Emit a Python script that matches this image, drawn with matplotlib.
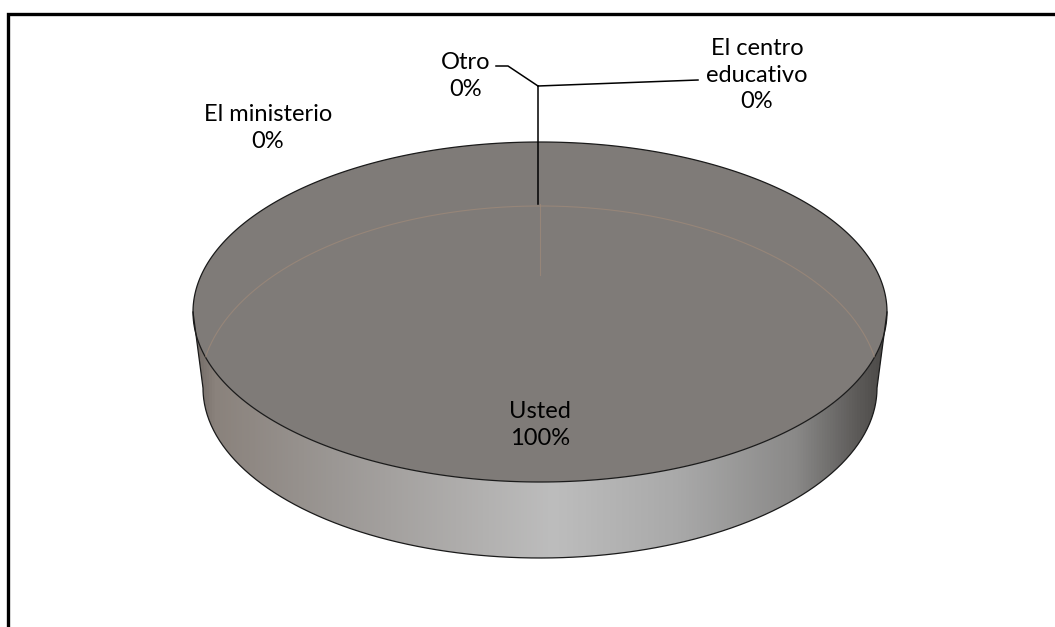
import numpy as np
import matplotlib.pyplot as plt
from matplotlib.colors import LinearSegmentedColormap
from matplotlib.patches import Polygon

plt.rcParams['font.family'] = ['Lato', 'DejaVu Sans']

# survey answers (share of responses)
categories = ["El ministerio", "Otro", "El centro educativo", "Usted"]
values = [0, 0, 0, 100]
label_text = ["El ministerio\n0%", "Otro\n0%", "El centro\neducativo\n0%", "Usted\n100%"]

W, H = 1055, 627
fig = plt.figure(figsize=(W / 100, H / 100), dpi=100)
ax = fig.add_axes([0, 0, 1, 1])
ax.set_xlim(0, W)
ax.set_ylim(H, 0)
ax.axis("off")

# pie geometry in pixels: top face and base ellipses
cx, cy, rx, ry = 540, 312, 347, 170
bcx, bcy, brx, bry = 540, 388, 337, 170


def ell(t, x0, y0, a, b):
    return x0 + a * np.cos(t), y0 + b * np.sin(t)


# side wall (front half)
t = np.linspace(0, np.pi, 300)
tx, ty = ell(t, cx, cy, rx, ry)
bx, by = ell(t[::-1], bcx, bcy, brx, bry)
side = np.column_stack([np.r_[tx, bx], np.r_[ty, by]])
side_patch = Polygon(side, closed=True, facecolor="none", edgecolor="none")
ax.add_patch(side_patch)

stops = [(0.00, "#6f6863"), (0.03, "#8a827c"), (0.20, "#9b9794"),
         (0.52, "#bdbdbd"), (0.70, "#a9a9a9"), (0.87, "#8a8988"),
         (0.96, "#5c5a58"), (1.00, "#4a4846")]
cmap = LinearSegmentedColormap.from_list("side", stops)
grad = np.linspace(0, 1, 512)[None, :]
img = ax.imshow(grad, cmap=cmap, aspect="auto",
                extent=[cx - rx, cx + rx, bcy + bry, cy], zorder=1)
img.set_clip_path(side_patch)
ax.plot(np.r_[tx[-1], bx, tx[0]], np.r_[ty[-1], by, ty[0]],
        color="#1a1a1a", lw=0.9, zorder=3)

# slices on the top face, angles from the data
total = sum(values)
start = 90.0
edges = []
top_face = None
for v in values:
    span = 360.0 * v / total
    a0, a1 = start, start - span
    tt = np.radians(np.linspace(a0, a1, 400))
    px, py = cx + rx * np.cos(tt), cy - ry * np.sin(tt)
    if v > 0:
        verts = np.column_stack([px, py])
        if span < 360:
            verts = np.vstack([[cx, cy], verts])
        top_face = Polygon(verts, closed=True, facecolor="#7f7b78",
                           edgecolor="#1a1a1a", lw=0.9, zorder=2)
        ax.add_patch(top_face)
    edges.append(np.radians(a0))
    start = a1

# faint slice boundaries showing through the top face
tip_y = bcy - bry - 14
tt = np.linspace(np.pi, 2 * np.pi, 300)
ex, ey = ell(tt, bcx, bcy + 2, brx + 3, bry + 14)
arc, = ax.plot(ex, ey, color="#a08a78", lw=0.8, alpha=0.7, zorder=4)
arc.set_clip_path(top_face)
for a in set(edges):
    ax.plot([cx + 0 * np.cos(a)] * 2, [cy - 37, tip_y],
            color="#a08a78", lw=0.8, alpha=0.7, zorder=4)

# leader lines for the zero slices
ax.plot([538, 538], [tip_y, 86], color="black", lw=1.1, zorder=5)
ax.plot([538, 698], [86, 80], color="black", lw=1.1, zorder=5)
ax.plot([538, 508, 496], [86, 66, 66], color="black", lw=1.1, zorder=5)

fs = 17
ls = 1.32
ax.text(268, 128, label_text[0], ha="center", va="center", fontsize=fs,
        linespacing=ls, zorder=6)
ax.text(466, 76, label_text[1], ha="center", va="center", fontsize=fs,
        linespacing=ls, zorder=6)
ax.text(757, 75, label_text[2], ha="center", va="center", fontsize=fs,
        linespacing=ls, zorder=6)
ax.text(540, 425, label_text[3], ha="center", va="center", fontsize=fs,
        linespacing=ls, zorder=6)

# chart frame
ax.plot([7.5, 7.5, W], [H, 14, 14], color="black", lw=2.4,
        solid_joinstyle="miter", zorder=7)

fig.savefig("out.png", dpi=100)
